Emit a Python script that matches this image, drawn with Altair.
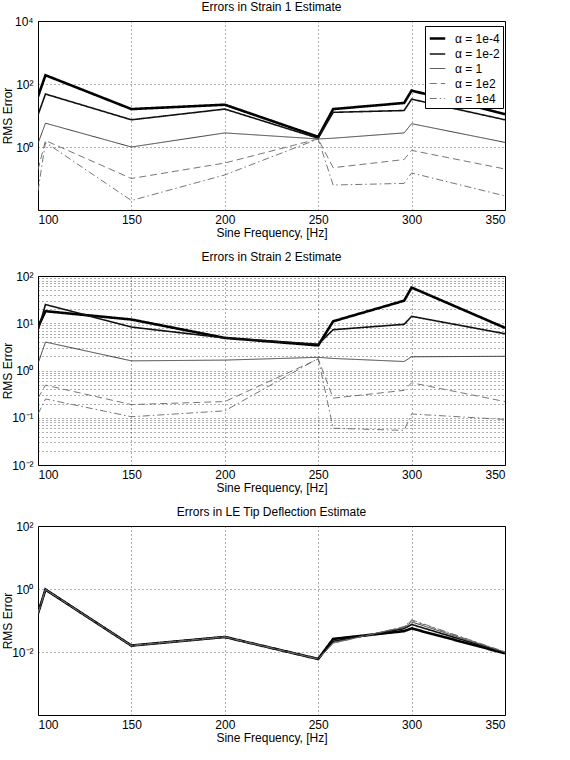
import altair as alt
import pandas as pd

freq = [100, 104, 150, 200, 250, 258, 296, 300, 350]
alphas = ["α = 1e-4", "α = 1e-2", "α = 1", "α = 1e2", "α = 1e4"]

# Panel 1: Errors in Strain 1 Estimate
s1 = {
    "α = 1e-4": [40, 190, 16, 22, 2.1, 16, 25, 62, 11],
    "α = 1e-2": [10.5, 48, 7.3, 16, 1.9, 12.6, 14.4, 33, 7.3],
    "α = 1":    [1.3, 5.7, 1.0, 2.8, 1.8, 1.9, 2.8, 5.5, 1.4],
    "α = 1e2":  [0.19, 1.6, 0.10, 0.31, 1.8, 0.22, 0.40, 0.78, 0.20],
    "α = 1e4":  [0.04, 1.4, 0.02, 0.13, 1.8, 0.062, 0.07, 0.15, 0.028],
}
# Panel 2: Errors in Strain 2 Estimate
s2 = {
    "α = 1e-4": [8.3, 18, 12, 4.9, 3.4, 11, 30, 57, 8],
    "α = 1e-2": [7, 25, 8.3, 4.9, 3.6, 7.3, 9.5, 14, 6],
    "α = 1":    [1.4, 4, 1.6, 1.66, 1.9, 1.8, 1.55, 1.95, 2.0],
    "α = 1e2":  [0.26, 0.49, 0.19, 0.22, 1.75, 0.26, 0.38, 0.55, 0.22],
    "α = 1e4":  [0.12, 0.25, 0.105, 0.14, 1.8, 0.06, 0.054, 0.12, 0.092],
}
# Panel 3: Errors in LE Tip Deflection Estimate
s3 = {
    "α = 1e-4": [0.17, 0.96, 0.016, 0.030, 0.006, 0.026, 0.046, 0.056, 0.0091],
    "α = 1e-2": [0.17, 0.96, 0.016, 0.030, 0.006, 0.022, 0.055, 0.075, 0.0095],
    "α = 1":    [0.17, 0.96, 0.016, 0.030, 0.006, 0.020, 0.060, 0.090, 0.0098],
    "α = 1e2":  [0.17, 0.96, 0.016, 0.030, 0.006, 0.019, 0.063, 0.100, 0.0100],
    "α = 1e4":  [0.17, 0.96, 0.016, 0.030, 0.006, 0.019, 0.064, 0.105, 0.0101],
}

titles = ["Errors in Strain 1 Estimate", "Errors in Strain 2 Estimate",
          "Errors in LE Tip Deflection Estimate"]

FONT = "Liberation Sans"
SUP = {-4: "10⁻⁴", -3: "10⁻³", -2: "10⁻²", -1: "10⁻¹", 0: "10⁰", 1: "10¹", 2: "10²", 3: "10³", 4: "10⁴"}


def to_df(series):
    rows = []
    for i, a in enumerate(alphas):
        for f, v in zip(freq, series[a]):
            rows.append({"freq": f, "err": v, "alpha": a, "ord": i})
    return pd.DataFrame(rows)


def label_expr(exps):
    expr = "''"
    for e in exps:
        expr = f"(abs(log(datum.value)/LN10 - ({e})) < 0.01 ? '{SUP[e]}' : {expr})"
    return expr


def panel(series, title, dom, grid_vals, label_exps, show_legend, toff):
    df = to_df(series)
    leg = alt.Legend(
        title=None, orient="none", legendX=387, legendY=5,
        fillColor="white", strokeColor="black", padding=3,
        symbolType="stroke", symbolSize=240, labelFont=FONT,
        labelFontSize=12, rowPadding=0, labelOffset=8,
    ) if show_legend else None
    return alt.Chart(df).mark_line(clip=True).encode(
        x=alt.X("freq:Q", scale=alt.Scale(domain=[100, 350], nice=False, zero=False),
                axis=alt.Axis(title="Sine Frequency, [Hz]", values=[100, 150, 200, 250, 300, 350],
                              format="d")),
        y=alt.Y("err:Q", scale=alt.Scale(type="log", domain=dom, nice=False),
                axis=alt.Axis(title="RMS Error", values=grid_vals,
                              labelExpr=label_expr(label_exps))),
        color=alt.Color("alpha:N", sort=alphas,
                        scale=alt.Scale(domain=alphas, range=["#000000", "#111111", "#3a3a3a", "#666666", "#666666"]),
                        legend=leg),
        strokeDash=alt.StrokeDash("alpha:N", sort=alphas,
                                  scale=alt.Scale(domain=alphas, range=[[1, 0], [1, 0], [1, 0], [7, 4], [7, 3, 1.5, 3]]),
                                  legend=leg),
        strokeWidth=alt.StrokeWidth("alpha:N", sort=alphas,
                                    scale=alt.Scale(type="ordinal", domain=alphas, range=[2.6, 1.6, 1.0, 0.9, 0.9]),
                                    legend=leg),
        order=alt.Order("ord:Q", sort="descending"),
        detail="alpha:N",
    ).properties(width=467, height=189,
                 title=alt.TitleParams(title, offset=toff))


minor2 = [k * 10 ** e for e in range(-2, 2) for k in range(1, 10)] + [100]

p1 = panel(s1, titles[0], [1e-2, 1e4], [1, 100, 1e4], [0, 2, 4], True, 1)
p2 = panel(s2, titles[1], [1e-2, 1e2], minor2, [-2, -1, 0, 1, 2], False, 6)
p3 = panel(s3, titles[2], [1e-4, 1e2], [1e-2, 1, 1e2], [-2, 0, 2], False, 1)

top = alt.vconcat(p1, p2, spacing=11).resolve_scale(
    color="independent", strokeDash="independent", strokeWidth="independent"
).resolve_legend(
    color="independent", strokeDash="independent", strokeWidth="independent"
)

chart = alt.vconcat(top, p3, spacing=11).resolve_scale(
    color="independent", strokeDash="independent", strokeWidth="independent"
).resolve_legend(
    color="independent", strokeDash="independent", strokeWidth="independent"
).properties(
    padding={"left": 0, "top": 0, "right": 10, "bottom": 5}
).configure(
    font=FONT,
).configure_view(
    stroke="black", strokeWidth=1,
).configure_axis(
    domain=False, ticks=False, labelPadding=5,
    grid=True, gridColor="#000000", gridDash=[1, 3], gridOpacity=0.8, gridWidth=0.8,
    labelFont=FONT, labelFontSize=12, labelColor="black",
    titleFont=FONT, titleFontSize=12, titleFontWeight="normal", titleColor="black",
).configure_axisX(
    titlePadding=2, labelPadding=4,
).configure_axisY(
    titlePadding=2, minExtent=22, maxExtent=22,
).configure_title(
    font=FONT, fontSize=12, fontWeight="normal", color="black",
)

chart.save("out.html", embed_options={"renderer": "svg", "actions": False})
